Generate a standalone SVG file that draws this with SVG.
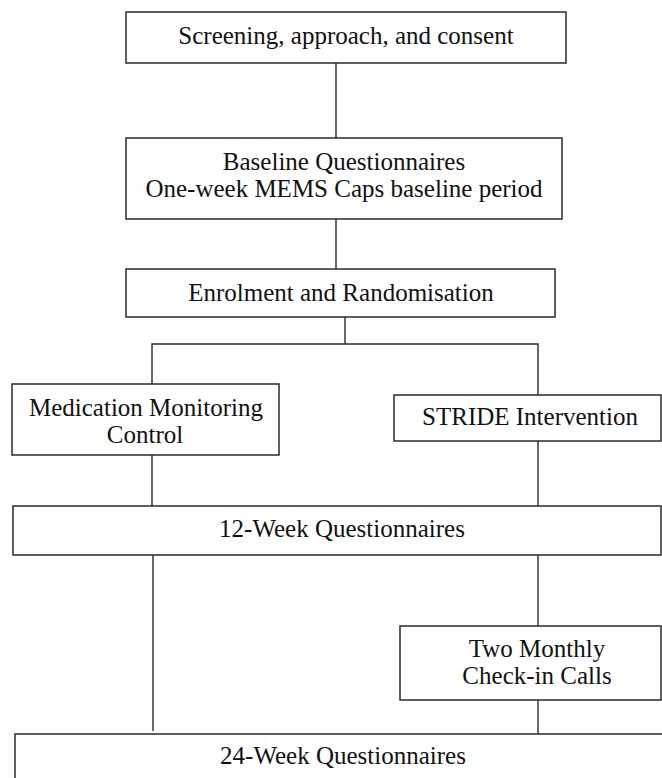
<svg xmlns="http://www.w3.org/2000/svg" width="662" height="778" viewBox="0 0 662 778">
<style>
.box{fill:#fff;stroke:#2a2a2a;stroke-width:1.5}
.ln{fill:none;stroke:#2a2a2a;stroke-width:1.4}
text{font-family:"Liberation Serif","Times New Roman",serif;font-size:25px;fill:#111;text-anchor:middle}
</style>
<rect width="662" height="778" fill="#fff"/>
<g id="connectors">
<path class="ln" d="M336 63V138"/>
<path class="ln" d="M336 219V269"/>
<path class="ln" d="M345 317V344"/>
<path class="ln" d="M152 384V344H538V395"/>
<path class="ln" d="M152 455V506"/>
<path class="ln" d="M538 441V506"/>
<path class="ln" d="M153 555V731"/>
<path class="ln" d="M538 555V626"/>
<path class="ln" d="M538 700V734"/>
</g>
<g id="screening">
<rect class="box" x="126" y="12" width="440" height="51"/>
<text x="346" y="44">Screening, approach, and consent</text>
</g>
<g id="baseline">
<rect class="box" x="126" y="138" width="436" height="81"/>
<text x="344" y="170">Baseline Questionnaires</text>
<text x="344" y="197">One-week MEMS Caps baseline period</text>
</g>
<g id="enrolment">
<rect class="box" x="126" y="269" width="429" height="48"/>
<text x="341" y="301">Enrolment and Randomisation</text>
</g>
<g id="control">
<rect class="box" x="12" y="384" width="267" height="71"/>
<text x="146" y="416">Medication Monitoring</text>
<text x="145" y="443">Control</text>
</g>
<g id="stride">
<rect class="box" x="394" y="395" width="267" height="46"/>
<text x="530" y="425">STRIDE Intervention</text>
</g>
<g id="week12">
<rect class="box" x="13" y="506" width="648" height="49"/>
<text x="342" y="537">12-Week Questionnaires</text>
</g>
<g id="checkin">
<rect class="box" x="400" y="626" width="261" height="74"/>
<text x="537" y="657">Two Monthly</text>
<text x="537" y="684">Check-in Calls</text>
</g>
<g id="week24">
<rect class="box" x="15" y="734" width="660" height="60"/>
<text x="343" y="764">24-Week Questionnaires</text>
</g>
</svg>
